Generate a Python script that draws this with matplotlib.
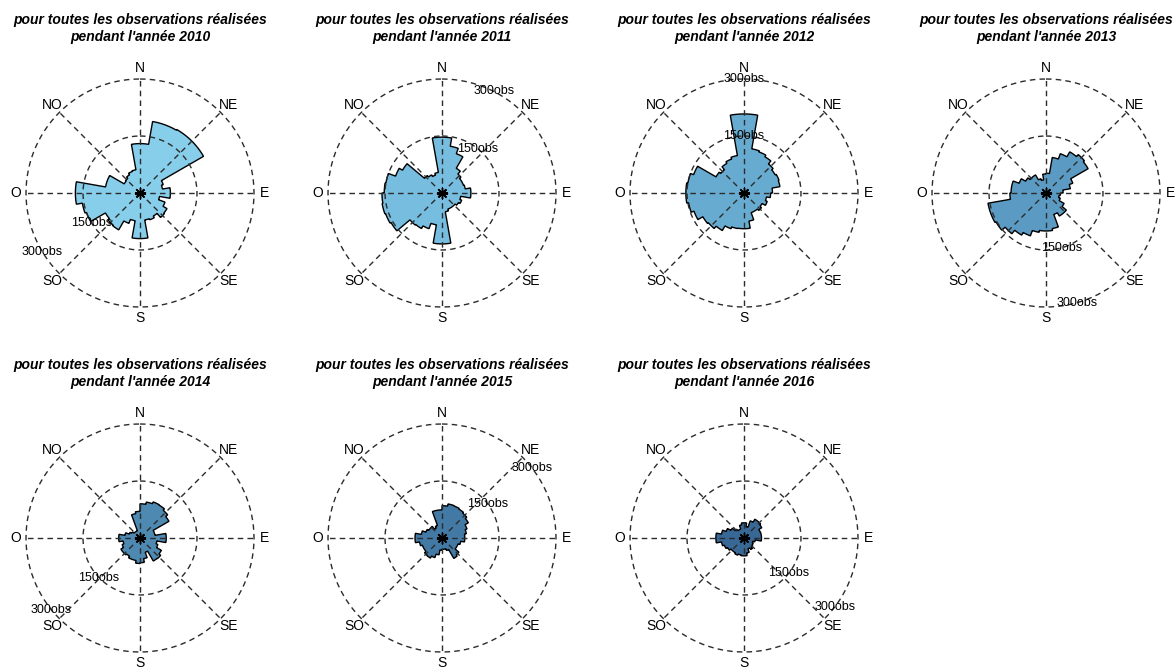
import numpy as np
import matplotlib
matplotlib.use("Agg")
import matplotlib.pyplot as plt

plt.rcParams['font.family'] = ['Liberation Sans', 'DejaVu Sans']

# counts per 10 degree sector, sectors start at N and go clockwise
years = [2010, 2011, 2012, 2013, 2014, 2015, 2016]

obs_2010 = [130, 191, 191, 193, 193, 193, 65, 60, 80, 80, 52, 70,
            82, 84, 70, 75, 72, 120, 120, 74, 85, 112, 110, 105,
            150, 154, 170, 170, 92, 92, 48, 50, 55, 60, 62, 130]
obs_2011 = [147, 125, 110, 75, 65, 60, 60, 62, 76, 76, 50, 55,
            50, 45, 45, 45, 50, 134, 134, 85, 100, 108, 110, 155,
            158, 160, 158, 152, 150, 130, 120, 60, 55, 50, 55, 147]
obs_2012 = [208, 118, 115, 110, 100, 95, 98, 96, 75, 70, 60, 65,
            55, 60, 55, 55, 75, 94, 94, 95, 100, 114, 122, 125,
            140, 148, 153, 153, 150, 141, 85, 80, 90, 95, 100, 208]
obs_2013 = [52, 95, 110, 125, 132, 128, 75, 65, 45, 38, 35, 40,
            55, 70, 70, 60, 95, 100, 100, 105, 120, 128, 140, 152,
            155, 155, 95, 92, 92, 75, 62, 55, 55, 40, 35, 50]
obs_2014 = [90, 96, 101, 100, 95, 88, 40, 40, 69, 69, 45, 50,
            65, 71, 70, 40, 55, 65, 67, 60, 60, 55, 58, 58,
            50, 45, 56, 56, 40, 30, 25, 20, 20, 20, 65, 70]
obs_2015 = [85, 91, 90, 88, 85, 80, 70, 65, 60, 60, 50, 45,
            45, 58, 62, 35, 30, 30, 32, 45, 55, 61, 60, 55,
            55, 60, 71, 71, 55, 45, 40, 40, 30, 35, 74, 74]
obs_2016 = [40, 30, 48, 57, 57, 54, 45, 46, 46, 46, 30, 25,
            28, 30, 35, 30, 40, 47, 47, 45, 48, 45, 45, 50,
            55, 60, 74, 74, 60, 50, 40, 30, 25, 25, 35, 40]

all_obs = [obs_2010, obs_2011, obs_2012, obs_2013, obs_2014, obs_2015, obs_2016]
fill_colors = ['#87ceeb', '#77bddf', '#68abd0', '#5b9bc3', '#4e89b2', '#4379a5', '#386895']

# angle (deg, clockwise from N) where the 150 / 300 labels sit
label_150 = [238, 39, 0, 164, 226, 54, 128]
label_300 = [239, 27, 0, 164, 231, 52, 127]

directions = ['N', 'NE', 'E', 'SE', 'S', 'SO', 'O', 'NO']
rings = [150, 300]

W, H = 1175, 668
col_x = [140, 442, 744, 1046]
row_y = [193, 538]
rmax = 310
half = 114 * rmax / 300  # pixel radius of the axes

fig = plt.figure(figsize=(W / 100, H / 100), dpi=100)

for k, (year, counts) in enumerate(zip(years, all_obs)):
    cx = col_x[k % 4]
    cy = row_y[k // 4]
    ax = fig.add_axes([(cx - half) / W, 1 - (cy + half) / H, 2 * half / W, 2 * half / H],
                      projection='polar')
    ax.set_theta_zero_location('N')
    ax.set_theta_direction(-1)
    ax.set_ylim(0, rmax)
    ax.axis('off')

    # step outline of the rose
    n = len(counts)
    edges = np.deg2rad(np.arange(n + 1) * 360 / n)
    th, rr = [], []
    for i, c in enumerate(counts):
        t = np.linspace(edges[i], edges[i + 1], 12)
        th.extend(t)
        rr.extend([c] * len(t))
    ax.fill(th, rr, facecolor=fill_colors[k], edgecolor='black', lw=1.0, zorder=2)

    # dashed rings and compass spokes
    circ = np.linspace(0, 2 * np.pi, 361)
    for r in rings:
        ax.plot(circ, np.full_like(circ, r), ls=(0, (4, 3)), color='#2b2b2b', lw=1.0, zorder=3)
    for j, d in enumerate(directions):
        t = np.deg2rad(45 * j)
        ax.plot([t, t], [0, 300], ls=(0, (4, 3)), color='#2b2b2b', lw=1.0, zorder=3)
        ax.text(t, 328, d, ha='center', va='center', fontsize=10, clip_on=False)

    ax.plot(0, 0, marker=(8, 2, 0), color='black', ms=8, mew=1.0, zorder=4)

    ax.text(np.deg2rad(label_150[k]), 150, '150obs', ha='center', va='center',
            fontsize=9, zorder=5, clip_on=False)
    ax.text(np.deg2rad(label_300[k]), 300, '300obs', ha='center', va='center',
            fontsize=9, zorder=5, clip_on=False)

    ty = row_y[k // 4] - 193
    fig.text(cx / W, 1 - (20 + ty) / H, 'pour toutes les observations réalisées',
             ha='center', va='center', fontsize=10, fontweight='bold', fontstyle='italic')
    fig.text(cx / W, 1 - (37 + ty) / H, "pendant l'année %d" % year,
             ha='center', va='center', fontsize=10, fontweight='bold', fontstyle='italic')

fig.savefig('out.png', dpi=100)
